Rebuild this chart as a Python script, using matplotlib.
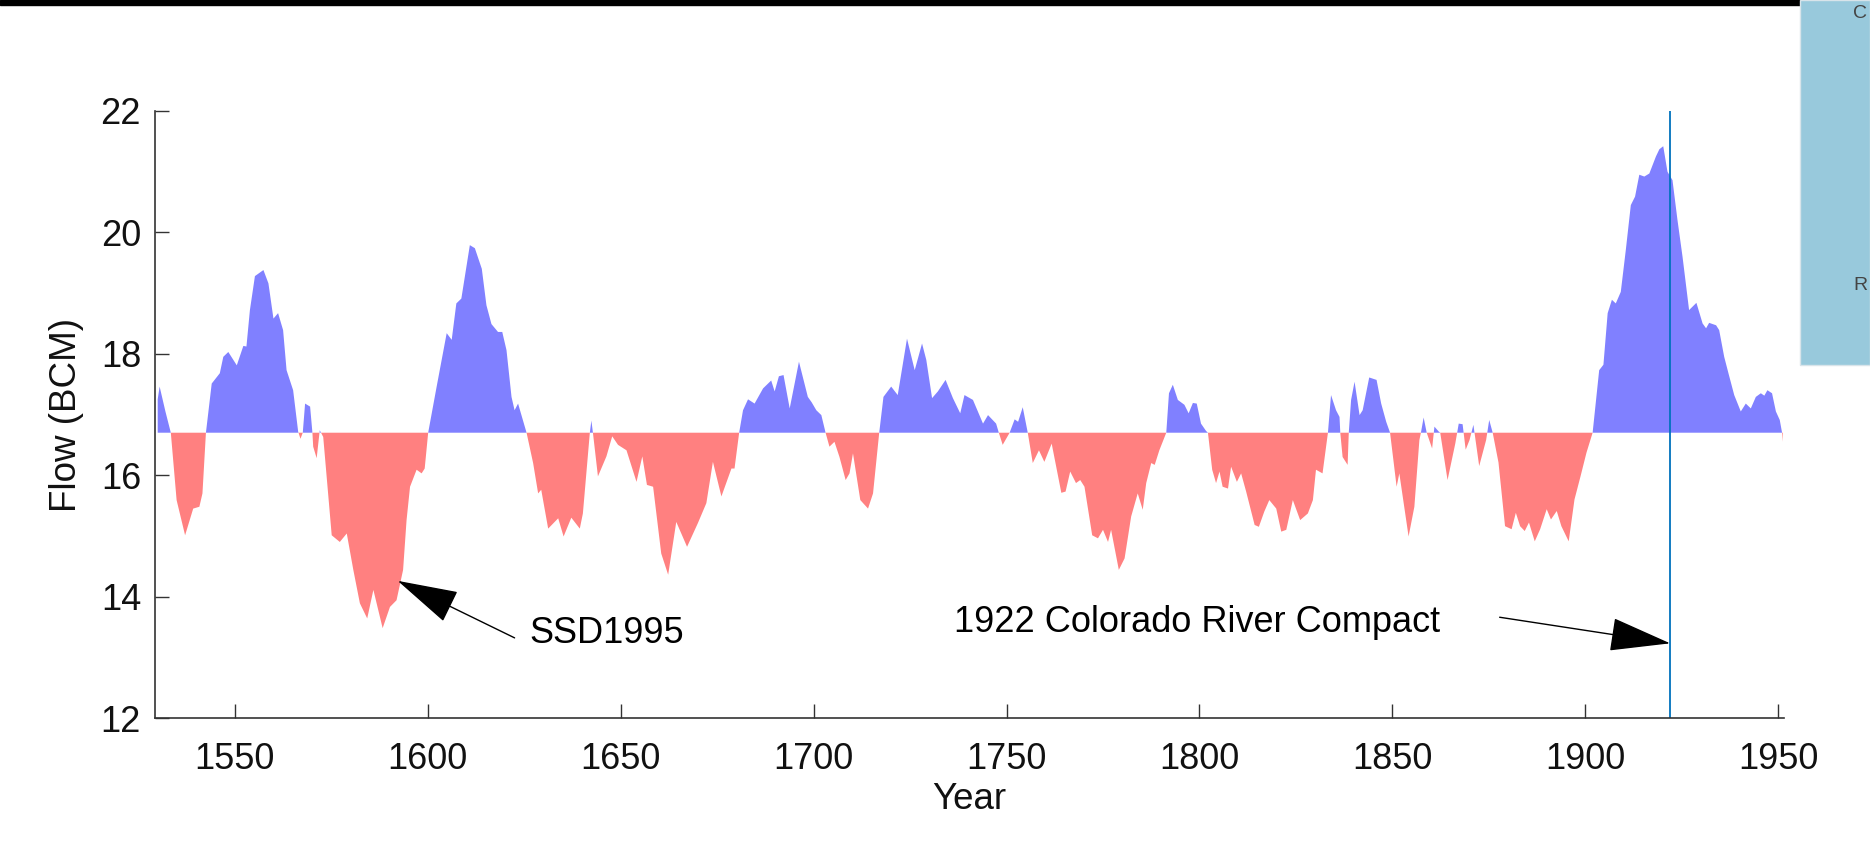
import numpy as np
import matplotlib.pyplot as plt

plt.rcParams['font.family'] = ['Liberation Sans', 'DejaVu Sans']

# Reconstructed Colorado River flow (BCM), smoothed, read year by year
years = [1530.0, 1530.5, 1532.0, 1533.4, 1534.9, 1537.1, 1539.2, 1540.8, 1541.6, 1542.5,
         1544.0, 1546.1, 1547.0, 1548.3, 1550.5, 1552.2, 1553.0, 1553.9, 1555.2, 1557.4,
         1558.7, 1560.0, 1561.2, 1562.5, 1563.4, 1565.1, 1566.4, 1567.0, 1567.6, 1568.2,
         1569.5, 1570.1, 1570.3, 1571.2, 1572.0, 1572.9, 1575.1, 1577.2, 1579.0, 1580.7,
         1582.4, 1584.3, 1585.9, 1588.3, 1590.2, 1591.9, 1593.6, 1594.5, 1595.4, 1597.1,
         1598.4, 1599.2, 1600.1, 1602.3, 1604.9, 1606.2, 1607.4, 1608.7, 1610.9, 1612.2,
         1614.0, 1615.2, 1616.5, 1618.2, 1619.3, 1620.4, 1621.7, 1622.5, 1623.4, 1625.6,
         1627.3, 1628.6, 1629.4, 1631.2, 1633.8, 1635.2, 1637.2, 1639.4, 1640.2, 1642.0,
         1642.4, 1642.8, 1644.1, 1646.3, 1647.8, 1649.3, 1651.5, 1654.1, 1655.6, 1656.8,
         1658.4, 1660.5, 1662.3, 1664.4, 1667.2, 1670.0, 1672.2, 1673.9, 1676.1, 1678.7,
         1679.5, 1680.7, 1681.7, 1683.0, 1684.7, 1686.9, 1689.0, 1689.9, 1691.0, 1692.2,
         1693.8, 1696.2, 1698.5, 1699.5, 1700.7, 1702.0, 1703.1, 1704.1, 1705.4, 1706.7,
         1708.3, 1709.3, 1710.2, 1712.1, 1714.1, 1715.4, 1717.0, 1718.1, 1720.1, 1721.8,
         1724.2, 1726.2, 1728.1, 1729.2, 1730.7, 1732.2, 1734.2, 1736.1, 1738.0, 1739.1,
         1741.3, 1743.9, 1745.2, 1747.3, 1748.0, 1749.0, 1750.8, 1752.1, 1753.0, 1754.2,
         1755.5, 1756.8, 1758.4, 1759.8, 1761.7, 1764.2, 1765.3, 1766.5, 1768.0, 1769.1,
         1770.2, 1772.2, 1773.7, 1775.0, 1776.3, 1777.1, 1779.1, 1780.6, 1782.3, 1784.0,
         1785.3, 1786.2, 1787.5, 1788.4, 1789.6, 1791.4, 1792.1, 1793.1, 1794.4, 1796.1,
         1797.2, 1798.3, 1799.3, 1800.4, 1801.7, 1802.2, 1803.3, 1804.3, 1805.2, 1806.0,
         1807.4, 1808.2, 1809.7, 1810.8, 1812.1, 1814.3, 1815.4, 1816.8, 1818.1, 1819.9,
         1821.2, 1822.5, 1824.2, 1826.1, 1828.1, 1829.4, 1830.2, 1831.9, 1833.3, 1834.1,
         1835.4, 1836.3, 1836.5, 1837.1, 1838.4, 1838.7, 1839.3, 1840.2, 1841.5, 1842.3,
         1844.0, 1845.9, 1847.1, 1848.4, 1849.4, 1851.1, 1851.8, 1854.2, 1855.7, 1857.0,
         1857.4, 1858.1, 1858.9, 1860.3, 1860.9, 1862.0, 1862.4, 1864.3, 1866.3, 1867.2,
         1868.2, 1869.0, 1870.0, 1871.0, 1872.5, 1874.3, 1875.1, 1876.0, 1877.5, 1879.2,
         1880.9, 1882.0, 1883.1, 1884.3, 1885.4, 1886.9, 1888.3, 1890.0, 1891.1, 1892.6,
         1893.8, 1895.7, 1897.2, 1898.8, 1900.3, 1901.9, 1903.6, 1904.7, 1905.8, 1906.9,
         1907.9, 1909.2, 1910.5, 1911.8, 1912.9, 1914.0, 1915.3, 1916.6, 1918.3, 1919.2,
         1920.2, 1921.3, 1922.6, 1923.9, 1925.2, 1926.9, 1928.8, 1930.4, 1931.3, 1932.1,
         1933.9, 1934.7, 1936.0, 1937.1, 1938.6, 1940.3, 1941.6, 1942.9, 1944.2, 1945.5,
         1946.4, 1947.2, 1948.4, 1949.4, 1950.4, 1951.0, 1951.2]
flow = [17.25, 17.46, 17.05, 16.70, 15.59, 15.01, 15.45, 15.48, 15.70, 16.70,
        17.51, 17.68, 17.95, 18.03, 17.81, 18.13, 18.12, 18.72, 19.28, 19.38,
        19.16, 18.58, 18.67, 18.39, 17.73, 17.40, 16.72, 16.60, 16.70, 17.18,
        17.13, 16.70, 16.47, 16.28, 16.74, 16.63, 15.01, 14.90, 15.04, 14.44,
        13.89, 13.64, 14.11, 13.48, 13.83, 13.94, 14.44, 15.26, 15.81, 16.09,
        16.03, 16.11, 16.70, 17.46, 18.34, 18.23, 18.83, 18.91, 19.79, 19.74,
        19.40, 18.80, 18.49, 18.36, 18.36, 18.06, 17.29, 17.07, 17.18, 16.70,
        16.20, 15.70, 15.76, 15.12, 15.29, 14.99, 15.30, 15.12, 15.37, 16.70,
        16.90, 16.70, 15.98, 16.31, 16.64, 16.50, 16.41, 15.89, 16.31, 15.84,
        15.81, 14.71, 14.36, 15.23, 14.82, 15.21, 15.54, 16.22, 15.65, 16.11,
        16.11, 16.70, 17.07, 17.25, 17.18, 17.43, 17.56, 17.38, 17.63, 17.65,
        17.10, 17.87, 17.29, 17.20, 17.07, 16.99, 16.70, 16.47, 16.55, 16.30,
        15.92, 16.03, 16.36, 15.59, 15.45, 15.70, 16.70, 17.29, 17.46, 17.32,
        18.25, 17.73, 18.17, 17.90, 17.27, 17.38, 17.57, 17.27, 17.02, 17.32,
        17.24, 16.85, 16.99, 16.85, 16.70, 16.50, 16.70, 16.92, 16.88, 17.12,
        16.70, 16.20, 16.41, 16.22, 16.52, 15.71, 15.73, 16.06, 15.87, 15.92,
        15.81, 15.01, 14.96, 15.10, 14.90, 15.10, 14.44, 14.63, 15.32, 15.70,
        15.43, 15.87, 16.20, 16.17, 16.41, 16.70, 17.35, 17.49, 17.24, 17.16,
        17.02, 17.19, 17.18, 16.85, 16.73, 16.70, 16.09, 15.87, 16.06, 15.81,
        15.78, 16.14, 15.89, 16.03, 15.73, 15.18, 15.15, 15.40, 15.59, 15.45,
        15.07, 15.10, 15.59, 15.26, 15.37, 15.59, 16.09, 16.03, 16.70, 17.32,
        17.07, 16.96, 16.70, 16.30, 16.17, 16.70, 17.24, 17.54, 16.99, 17.07,
        17.61, 17.57, 17.18, 16.88, 16.70, 15.81, 16.03, 14.99, 15.48, 16.58,
        16.70, 16.95, 16.70, 16.44, 16.80, 16.72, 16.70, 15.92, 16.52, 16.85,
        16.84, 16.42, 16.58, 16.83, 16.15, 16.58, 16.91, 16.70, 16.21, 15.16,
        15.11, 15.38, 15.16, 15.08, 15.22, 14.91, 15.11, 15.44, 15.27, 15.41,
        15.16, 14.91, 15.60, 15.99, 16.37, 16.70, 17.73, 17.82, 18.67, 18.89,
        18.83, 19.02, 19.71, 20.45, 20.59, 20.95, 20.92, 20.97, 21.25, 21.37,
        21.42, 21.00, 20.86, 20.20, 19.60, 18.72, 18.84, 18.50, 18.42, 18.51,
        18.47, 18.39, 17.95, 17.68, 17.32, 17.05, 17.18, 17.10, 17.29, 17.35,
        17.31, 17.40, 17.35, 17.05, 16.91, 16.70, 16.55]

mean_flow = 16.7
compact_year = 1922

years = np.array(years)
flow = np.array(flow)

fig = plt.figure(figsize=(18.7, 8.58), dpi=100)

# frame pieces around the figure (black strip on top, blue card on the right)
fig.patches.append(plt.Rectangle((0, 1 - 5 / 858), 1800 / 1870, 5 / 858,
                                 transform=fig.transFigure, color='black', zorder=0))
fig.patches.append(plt.Rectangle((1800 / 1870, 1 - 365 / 858), 70 / 1870, 365 / 858,
                                 transform=fig.transFigure, facecolor='#98c9dc',
                                 edgecolor='#d8e4ea', lw=1, zorder=0))
fig.text(1853 / 1870, 1 - 14 / 858, 'C', fontsize=14, color='#444444', ha='left', va='center')
fig.text(1853 / 1870, 1 - 285 / 858, 'R', fontsize=14, color='#444444', ha='left', va='center')

ax = fig.add_axes([155 / 1870, 140 / 858, 1629 / 1870, 607 / 858])

ax.fill_between(years, flow, mean_flow, where=flow >= mean_flow, interpolate=True,
                color='#8080ff', linewidth=0)
ax.fill_between(years, flow, mean_flow, where=flow <= mean_flow, interpolate=True,
                color='#ff8080', linewidth=0)
ax.axvline(compact_year, color='#0072bd', lw=1.3)

ax.set_xlim(1529.3, 1951.5)
ax.set_ylim(12, 22)
ax.set_xticks(np.arange(1550, 1951, 50))
ax.set_yticks(np.arange(12, 23, 2))

for side in ['top', 'right']:
    ax.spines[side].set_visible(False)
for side in ['left', 'bottom']:
    ax.spines[side].set_color('#333333')
    ax.spines[side].set_linewidth(1.2)

ax.tick_params(direction='in', length=10, width=1, color='#333333',
               labelsize=26, labelcolor='#111111')
ax.tick_params(axis='x', pad=17)
ax.tick_params(axis='y', pad=10)

ax.set_xlabel('Year', fontsize=26.5, color='#111111', labelpad=4)
ax.set_ylabel('Flow (BCM)', fontsize=26.5, color='#111111', labelpad=12)

arrow = dict(arrowstyle='-|>,head_length=0.4,head_width=0.11', mutation_scale=99,
             color='black', lw=1, shrinkA=0, shrinkB=0)
ax.annotate('', xy=(1592.2, 14.26), xytext=(1622.5, 13.32), arrowprops=arrow)
ax.text(1626.4, 13.40, 'SSD1995', fontsize=26, ha='left', va='center')

ax.annotate('', xy=(compact_year, 13.23), xytext=(1877.8, 13.66), arrowprops=arrow)
ax.text(1736.3, 13.58, '1922 Colorado River Compact', fontsize=26, ha='left', va='center')

fig.savefig('out.png', dpi=100)
